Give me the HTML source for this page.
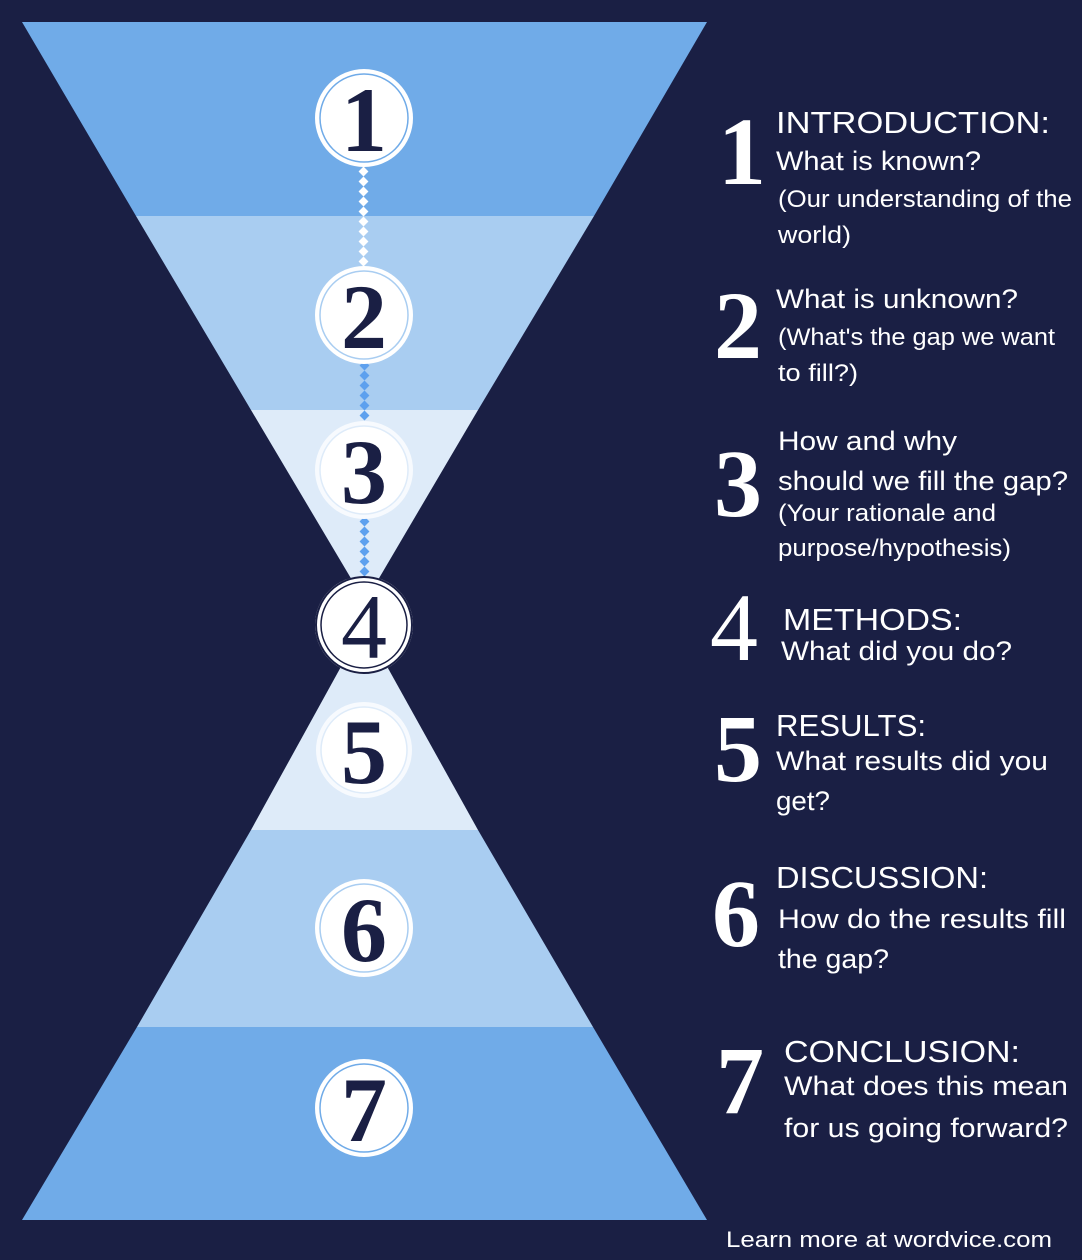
<!DOCTYPE html>
<html><head><meta charset="utf-8"><style>
html,body{margin:0;padding:0;background:#1a1f44;}
svg{display:block}
.h{font-family:"Liberation Sans",sans-serif;fill:#fff}
.n{font-family:"Liberation Serif",serif;font-weight:bold;fill:#fff}
.c{font-family:"Liberation Serif",serif;font-weight:bold;fill:#1a1f44;text-anchor:middle}
</style></head><body>
<svg width="1082" height="1260" viewBox="0 0 1082 1260">
<rect width="1082" height="1260" fill="#1a1f44"/>
<polygon points="22,22 707,22 594,216 136,216" fill="#70abe8"/>
<polygon points="136,216 594,216 478,410 251,410" fill="#a9cdf1"/>
<polygon points="251,410 478,410 365,602" fill="#deebf9"/>
<polygon points="364,625 478,830 251,830" fill="#deebf9"/>
<polygon points="251,830 478,830 593,1027 137,1027" fill="#a9cdf1"/>
<polygon points="137,1027 593,1027 707,1220 22,1220" fill="#70abe8"/>
<g fill="#fff">
<rect x="360" y="168" width="7" height="7" transform="rotate(45 363.5 171.5)"/>
<rect x="360" y="178" width="7" height="7" transform="rotate(45 363.5 181.5)"/>
<rect x="360" y="188" width="7" height="7" transform="rotate(45 363.5 191.5)"/>
<rect x="360" y="198" width="7" height="7" transform="rotate(45 363.5 201.5)"/>
<rect x="360" y="208" width="7" height="7" transform="rotate(45 363.5 211.5)"/>
<rect x="360" y="218" width="7" height="7" transform="rotate(45 363.5 221.5)"/>
<rect x="360" y="228" width="7" height="7" transform="rotate(45 363.5 231.5)"/>
<rect x="360" y="238" width="7" height="7" transform="rotate(45 363.5 241.5)"/>
<rect x="360" y="248" width="7" height="7" transform="rotate(45 363.5 251.5)"/>
<rect x="360" y="258" width="7" height="7" transform="rotate(45 363.5 261.5)"/>
</g>
<g fill="#5da0ee">
<rect x="361" y="362" width="7" height="7" transform="rotate(45 364.5 365.5)"/>
<rect x="361" y="372" width="7" height="7" transform="rotate(45 364.5 375.5)"/>
<rect x="361" y="382" width="7" height="7" transform="rotate(45 364.5 385.5)"/>
<rect x="361" y="392" width="7" height="7" transform="rotate(45 364.5 395.5)"/>
<rect x="361" y="402" width="7" height="7" transform="rotate(45 364.5 405.5)"/>
<rect x="361" y="412" width="7" height="7" transform="rotate(45 364.5 415.5)"/>
<rect x="361" y="518" width="7" height="7" transform="rotate(45 364.5 521.5)"/>
<rect x="361" y="528" width="7" height="7" transform="rotate(45 364.5 531.5)"/>
<rect x="361" y="538" width="7" height="7" transform="rotate(45 364.5 541.5)"/>
<rect x="361" y="548" width="7" height="7" transform="rotate(45 364.5 551.5)"/>
<rect x="361" y="558" width="7" height="7" transform="rotate(45 364.5 561.5)"/>
<rect x="361" y="568" width="7" height="7" transform="rotate(45 364.5 571.5)"/>
</g>
<g>
<circle cx="364" cy="118" r="49" fill="#fff"/><circle cx="364" cy="118" r="44" fill="#fff" stroke="#70abe8" stroke-width="1.5"/>
<circle cx="364" cy="315" r="49" fill="#fff"/><circle cx="364" cy="315" r="44" fill="#fff" stroke="#a9cdf1" stroke-width="1.5"/>
<circle cx="364" cy="470" r="49" fill="#f7fafe"/><circle cx="364" cy="470" r="44" fill="#fff" stroke="#deebf9" stroke-width="1.5"/>
<circle cx="364" cy="625" r="49" fill="#fff"/><circle cx="364" cy="625" r="48" fill="none" stroke="#1a1f44" stroke-width="2"/><circle cx="364" cy="625" r="43" fill="#fff" stroke="#1a1f44" stroke-width="1.5"/>
<circle cx="364" cy="750" r="48" fill="#f7fafe"/><circle cx="364" cy="750" r="43" fill="#fff" stroke="#deebf9" stroke-width="1.5"/>
<circle cx="364" cy="928" r="49" fill="#fff"/><circle cx="364" cy="928" r="44" fill="#fff" stroke="#a9cdf1" stroke-width="1.5"/>
<circle cx="364" cy="1108" r="49" fill="#fff"/><circle cx="364" cy="1108" r="44" fill="#fff" stroke="#70abe8" stroke-width="1.5"/>
</g>
<g class="c" font-size="92">
<text x="364" y="151">1</text>
<text x="364" y="348">2</text>
<text x="364" y="503">3</text>
<text x="364" y="658" font-weight="normal">4</text>
<text x="364" y="783">5</text>
<text x="364" y="961">6</text>
<text x="364" y="1141">7</text>
</g>
<g class="n" font-size="96">
<text x="718" y="184">1</text>
<text x="714" y="358">2</text>
<text x="714" y="516">3</text>
<text x="710" y="660" font-weight="normal">4</text>
<text x="714" y="781">5</text>
<text x="712" y="946">6</text>
<text x="716" y="1113">7</text>
</g>
<g class="h">
<text x="776" y="133" font-size="31" textLength="274" lengthAdjust="spacingAndGlyphs">INTRODUCTION:</text>
<text x="776" y="170" font-size="27" textLength="205" lengthAdjust="spacingAndGlyphs">What is known?</text>
<text x="778" y="207" font-size="24" textLength="294" lengthAdjust="spacingAndGlyphs">(Our understanding of the</text>
<text x="778" y="243" font-size="24" textLength="73" lengthAdjust="spacingAndGlyphs">world)</text>
<text x="776" y="308" font-size="27" textLength="242" lengthAdjust="spacingAndGlyphs">What is unknown?</text>
<text x="778" y="345" font-size="24" textLength="277" lengthAdjust="spacingAndGlyphs">(What's the gap we want</text>
<text x="778" y="381" font-size="24" textLength="80" lengthAdjust="spacingAndGlyphs">to fill?)</text>
<text x="778" y="450" font-size="27" textLength="179" lengthAdjust="spacingAndGlyphs">How and why</text>
<text x="778" y="490" font-size="27" textLength="290" lengthAdjust="spacingAndGlyphs">should we fill the gap?</text>
<text x="778" y="521" font-size="24" textLength="218" lengthAdjust="spacingAndGlyphs">(Your rationale and</text>
<text x="778" y="556" font-size="24" textLength="233" lengthAdjust="spacingAndGlyphs">purpose/hypothesis)</text>
<text x="783" y="630" font-size="31" textLength="179" lengthAdjust="spacingAndGlyphs">METHODS:</text>
<text x="781" y="660" font-size="27" textLength="231" lengthAdjust="spacingAndGlyphs">What did you do?</text>
<text x="776" y="736" font-size="31" textLength="150" lengthAdjust="spacingAndGlyphs">RESULTS:</text>
<text x="776" y="770" font-size="27" textLength="272" lengthAdjust="spacingAndGlyphs">What results did you</text>
<text x="776" y="810" font-size="27" textLength="54" lengthAdjust="spacingAndGlyphs">get?</text>
<text x="776" y="888" font-size="31" textLength="212" lengthAdjust="spacingAndGlyphs">DISCUSSION:</text>
<text x="778" y="928" font-size="27" textLength="288" lengthAdjust="spacingAndGlyphs">How do the results fill</text>
<text x="778" y="968" font-size="27" textLength="111" lengthAdjust="spacingAndGlyphs">the gap?</text>
<text x="784" y="1062" font-size="31" textLength="236" lengthAdjust="spacingAndGlyphs">CONCLUSION:</text>
<text x="784" y="1095" font-size="27" textLength="284" lengthAdjust="spacingAndGlyphs">What does this mean</text>
<text x="784" y="1137" font-size="27" textLength="284" lengthAdjust="spacingAndGlyphs">for us going forward?</text>
<text x="726" y="1247" font-size="22" textLength="326" lengthAdjust="spacingAndGlyphs">Learn more at  wordvice.com</text>
</g>
</svg>
</body></html>
